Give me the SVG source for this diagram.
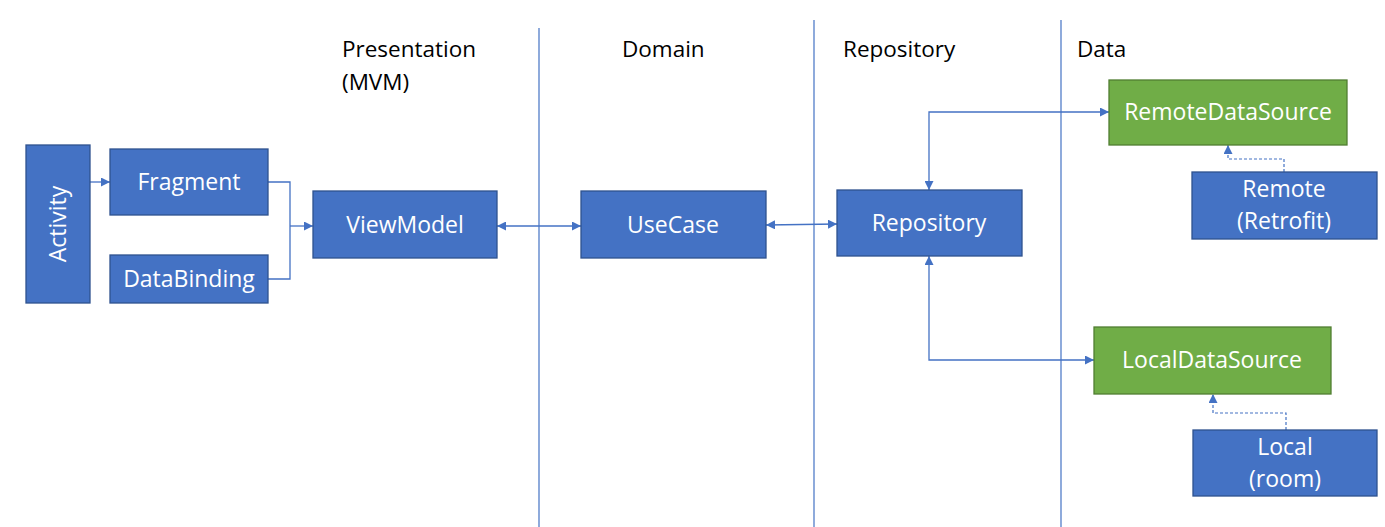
<svg xmlns="http://www.w3.org/2000/svg" width="1385" height="527" viewBox="0 0 1385 527">
<defs>
<marker id="ah" viewBox="0 0 10 10" refX="10" refY="5" markerWidth="9" markerHeight="9" markerUnits="userSpaceOnUse" orient="auto-start-reverse">
<path d="M0,0 L10,5 L0,10 z" fill="#4472C4"/>
</marker>
</defs>
<style>
.blue{fill:#4472C4;stroke:#2F528F;stroke-width:1.3}
.green{fill:#70AD47;stroke:#507E32;stroke-width:1.3}
.lbl{font-family:"Open Sans","Noto Sans",sans-serif;font-size:23px;fill:#ffffff;text-anchor:middle}
.hdr{font-family:"Open Sans","Noto Sans",sans-serif;font-size:22.5px;fill:#000000}
.sep{stroke:#4472C4;stroke-width:1.2;fill:none}
.con{stroke:#4472C4;stroke-width:1.3;fill:none}
.dash{stroke:#4472C4;stroke-width:1.2;fill:none;stroke-dasharray:3,2}
</style>
<rect width="1385" height="527" fill="#ffffff"/>
<g id="headers">
<text class="hdr" x="342" y="57">Presentation</text>
<text class="hdr" x="342" y="90">(MVM)</text>
<text class="hdr" x="622" y="57">Domain</text>
<text class="hdr" x="843" y="57">Repository</text>
<text class="hdr" x="1077" y="57">Data</text>
</g>
<g id="separators">
<line class="sep" x1="539" y1="28" x2="539" y2="527"/>
<line class="sep" x1="814" y1="20" x2="814" y2="527"/>
<line class="sep" x1="1061" y1="20" x2="1061" y2="527"/>
</g>
<g id="connectors">
<line class="con" x1="90" y1="182" x2="110" y2="182" marker-end="url(#ah)"/>
<polyline class="con" points="268,182 290,182 290,279 268,279"/>
<line class="con" x1="290" y1="226" x2="313" y2="226" marker-end="url(#ah)"/>
<line class="con" x1="497" y1="226" x2="581" y2="226" marker-start="url(#ah)" marker-end="url(#ah)"/>
<line class="con" x1="766" y1="225" x2="837" y2="224" marker-start="url(#ah)" marker-end="url(#ah)"/>
<polyline class="con" points="929,190 929,112 1109,112" marker-start="url(#ah)" marker-end="url(#ah)"/>
<polyline class="con" points="929,256 929,360 1094,360" marker-start="url(#ah)" marker-end="url(#ah)"/>
<polyline class="dash" points="1284,172 1284,159 1228,159 1228,145" marker-end="url(#ah)"/>
<polyline class="dash" points="1286,430 1286,413 1213,413 1213,394" marker-end="url(#ah)"/>
</g>
<g id="activity">
<rect class="blue" x="26" y="145" width="64" height="158"/>
<text class="lbl" transform="translate(58,224) rotate(-90)" y="8">Activity</text>
</g>
<g id="fragment">
<rect class="blue" x="110" y="149" width="158" height="66"/>
<text class="lbl" x="189" y="190">Fragment</text>
</g>
<g id="databinding">
<rect class="blue" x="110" y="255" width="158" height="48"/>
<text class="lbl" x="189" y="287">DataBinding</text>
</g>
<g id="viewmodel">
<rect class="blue" x="313" y="191" width="184" height="67"/>
<text class="lbl" x="405" y="233">ViewModel</text>
</g>
<g id="usecase">
<rect class="blue" x="581" y="191" width="185" height="67"/>
<text class="lbl" x="673" y="233">UseCase</text>
</g>
<g id="repository">
<rect class="blue" x="837" y="190" width="185" height="66"/>
<text class="lbl" x="929" y="231">Repository</text>
</g>
<g id="remotedatasource">
<rect class="green" x="1109" y="80" width="238" height="65"/>
<text class="lbl" x="1228" y="120">RemoteDataSource</text>
</g>
<g id="remote">
<rect class="blue" x="1192" y="172" width="185" height="67"/>
<text class="lbl" x="1284" y="197">Remote</text>
<text class="lbl" x="1284" y="229">(Retrofit)</text>
</g>
<g id="localdatasource">
<rect class="green" x="1094" y="327" width="237" height="67"/>
<text class="lbl" x="1212" y="368">LocalDataSource</text>
</g>
<g id="local">
<rect class="blue" x="1193" y="430" width="184" height="66"/>
<text class="lbl" x="1285" y="455">Local</text>
<text class="lbl" x="1285" y="487">(room)</text>
</g>
</svg>
